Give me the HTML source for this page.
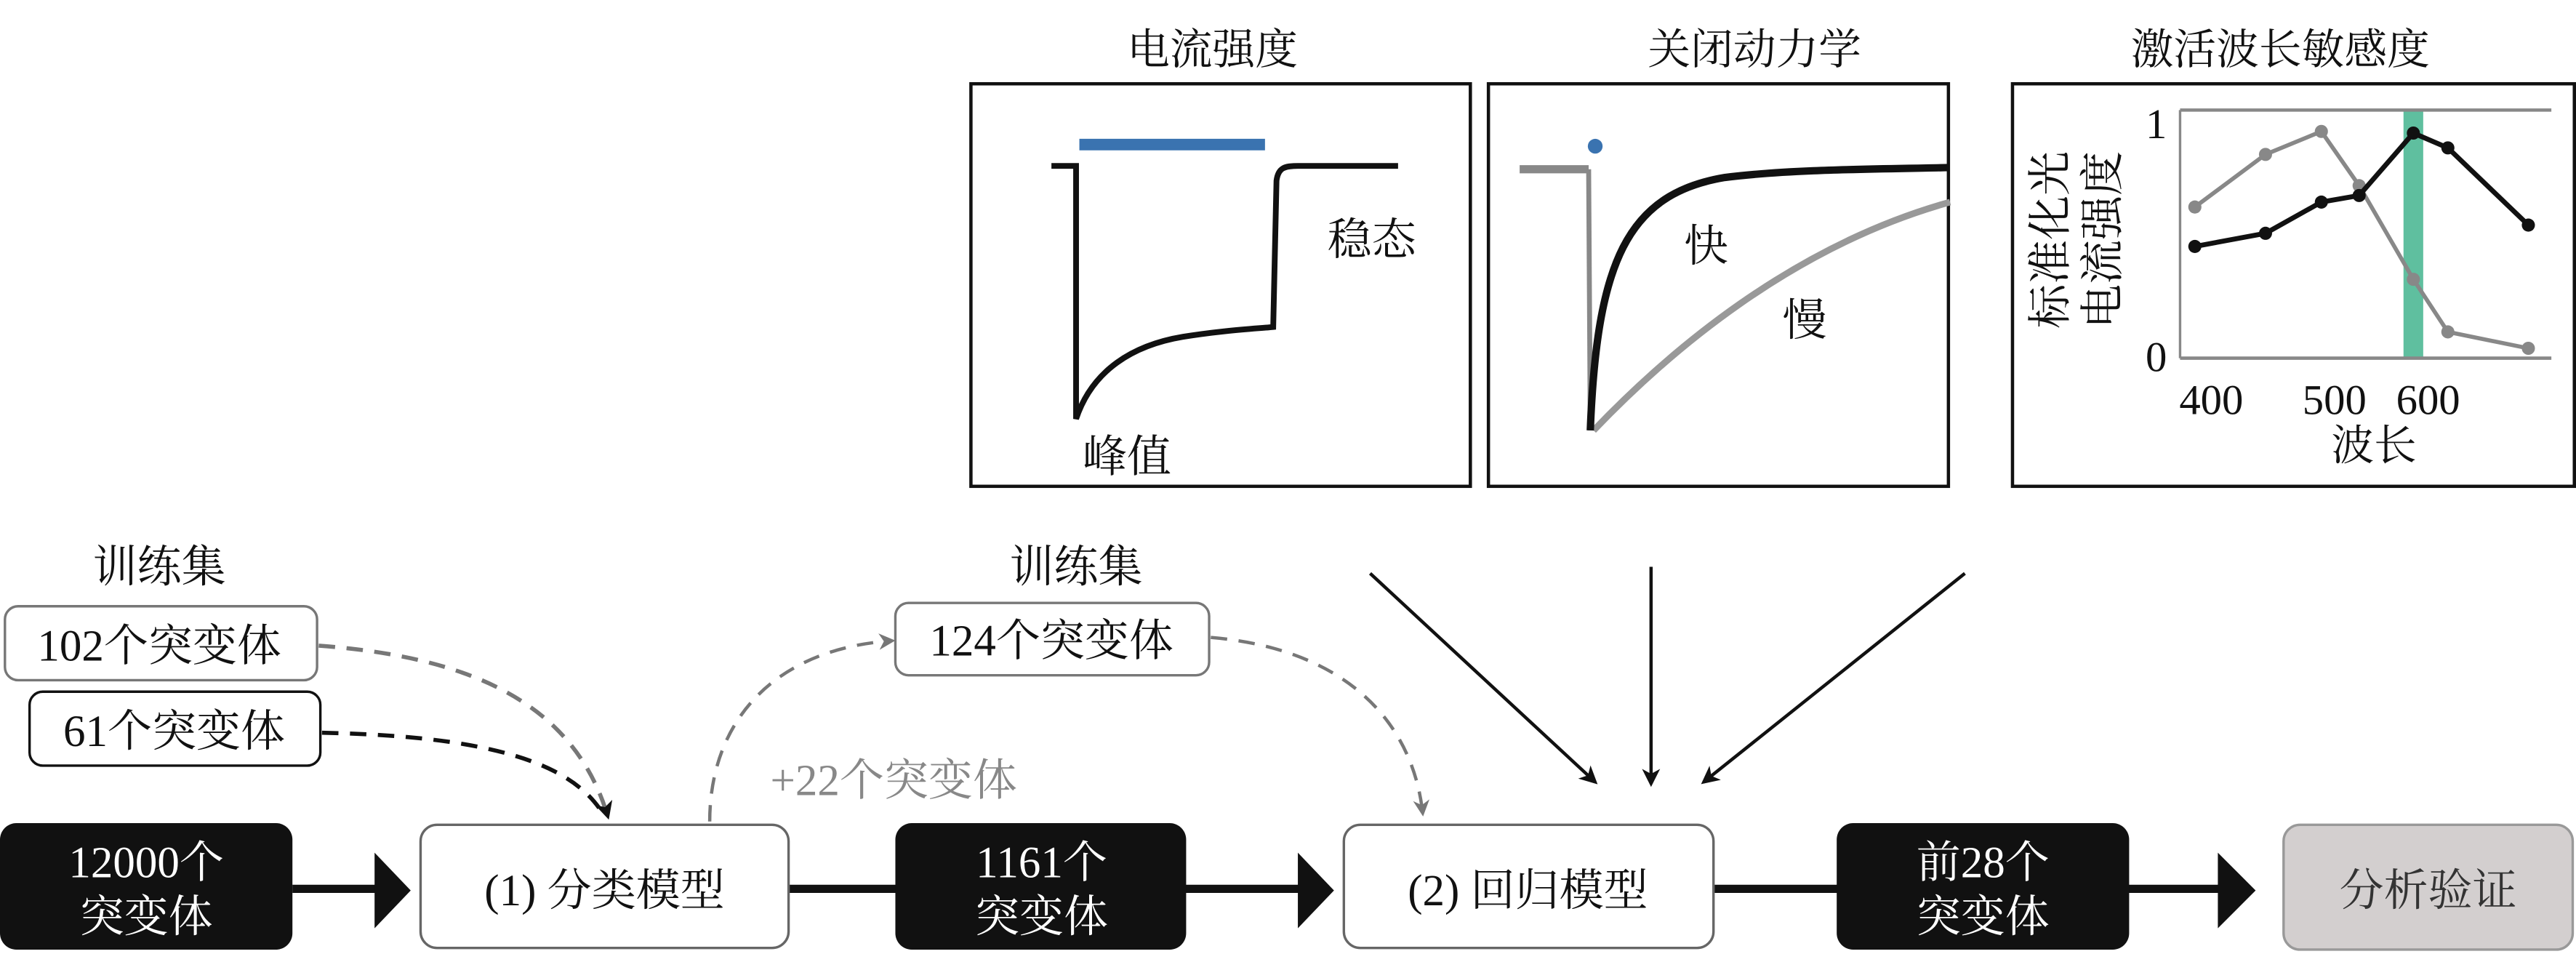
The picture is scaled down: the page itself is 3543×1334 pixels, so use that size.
<!DOCTYPE html>
<html><head><meta charset="utf-8"><style>
html,body{margin:0;padding:0;background:#fff;}
svg{display:block;}
text{font-family:"Liberation Serif","Noto Serif CJK SC",serif;}
</style></head><body>
<svg width="3543" height="1334" viewBox="0 0 1568 590.4" preserveAspectRatio="none" xmlns="http://www.w3.org/2000/svg">
<defs>
<marker id="ab" markerWidth="11" markerHeight="11" refX="9" refY="5.5" orient="auto" markerUnits="userSpaceOnUse"><path d="M0,0 L11,5.5 L0,11 L3,5.5 Z" fill="#111"/></marker>
<marker id="ag" markerWidth="10" markerHeight="10" refX="8" refY="5" orient="auto" markerUnits="userSpaceOnUse"><path d="M0,0 L10,5 L0,10 L3,5 Z" fill="#777"/></marker>
</defs>
<g font-size="26" text-anchor="middle" fill="#111">
<text x="738" y="39">电流强度</text>
<text x="1068" y="39">关闭动力学</text>
<text x="1388" y="39">激活波长敏感度</text>
</g>
<rect x="591" y="51" width="304" height="245" fill="#fff" stroke="#111" stroke-width="2"/>
<rect x="906" y="51" width="280" height="245" fill="#fff" stroke="#111" stroke-width="2"/>
<rect x="1225" y="51" width="342" height="245" fill="#fff" stroke="#111" stroke-width="2"/>
<line x1="657" y1="88" x2="770" y2="88" stroke="#3a73b0" stroke-width="7"/>
<path d="M640,101 L655,101 L655,255 C665,225 690,210 720,205 C745,201 765,200 775,199 L777,110 C778,102 782,101 790,101 L851,101" fill="none" stroke="#111" stroke-width="3.5"/>
<g font-size="27" fill="#111"><text x="808" y="155">稳态</text><text x="659" y="287">峰值</text></g>
<circle cx="971" cy="89" r="4.5" fill="#3a73b0"/>
<line x1="925" y1="103" x2="967" y2="103" stroke="#888" stroke-width="5"/>
<line x1="967" y1="103" x2="968" y2="262" stroke="#888" stroke-width="3"/>
<path d="M970,262 C1015,215 1090,150 1187,123" fill="none" stroke="#999" stroke-width="4"/>
<path d="M968,262 C972,160 990,118 1050,108 C1090,103 1140,103 1186,102" fill="none" stroke="#111" stroke-width="4.5"/>
<g font-size="27" fill="#111"><text x="1025" y="159">快</text><text x="1085" y="204">慢</text></g>
<rect x="1463" y="67" width="12" height="151" fill="#5fbf9f"/>
<line x1="1327" y1="67" x2="1553" y2="67" stroke="#888" stroke-width="2"/>
<line x1="1327" y1="218" x2="1553" y2="218" stroke="#888" stroke-width="2"/>
<line x1="1327" y1="67" x2="1327" y2="218" stroke="#888" stroke-width="1.5"/>
<polyline points="1336,126 1379,94 1413,80 1436,113 1469,170 1490,202 1539,212" fill="none" stroke="#888" stroke-width="2.5"/>
<g fill="#888"><circle cx="1336" cy="126" r="4"/><circle cx="1379" cy="94" r="4"/><circle cx="1413" cy="80" r="4"/><circle cx="1436" cy="113" r="4"/><circle cx="1469" cy="170" r="4"/><circle cx="1490" cy="202" r="4"/><circle cx="1539" cy="212" r="4"/></g>
<polyline points="1336,150 1379,142 1413,123 1436,119 1469,81 1490,90 1539,137" fill="none" stroke="#111" stroke-width="3"/>
<g fill="#111"><circle cx="1336" cy="150" r="4"/><circle cx="1379" cy="142" r="4"/><circle cx="1413" cy="123" r="4"/><circle cx="1436" cy="119" r="4"/><circle cx="1469" cy="81" r="4"/><circle cx="1490" cy="90" r="4"/><circle cx="1539" cy="137" r="4"/></g>
<g font-size="26" fill="#111">
<text x="1306" y="84">1</text><text x="1306" y="226">0</text>
<text x="1346" y="252" text-anchor="middle">400</text>
<text x="1421" y="252" text-anchor="middle">500</text>
<text x="1478" y="252" text-anchor="middle">600</text>
<text x="1445" y="280" text-anchor="middle">波长</text>
</g>
<g font-size="27" fill="#111">
<text transform="translate(1257,146) rotate(-90)" text-anchor="middle">标准化光</text>
<text transform="translate(1289,146) rotate(-90)" text-anchor="middle">电流强度</text>
</g>
<g font-size="27" fill="#111" text-anchor="middle">
<text x="97" y="354">训练集</text>
<text x="655" y="354">训练集</text>
</g>
<rect x="3" y="369" width="190" height="45" rx="8" fill="#fff" stroke="#777" stroke-width="1.5"/>
<rect x="18" y="421" width="177" height="45" rx="8" fill="#fff" stroke="#111" stroke-width="1.5"/>
<rect x="545" y="367" width="191" height="44" rx="8" fill="#fff" stroke="#777" stroke-width="1.5"/>
<g font-size="27" fill="#111" text-anchor="middle">
<text x="97" y="402">102个突变体</text>
<text x="106" y="454">61个突变体</text>
<text x="640" y="399">124个突变体</text>
</g>
<text x="544" y="484" font-size="27" fill="#888" text-anchor="middle">+22个突变体</text>
<path d="M194,393 C290,400 350,430 370,497" fill="none" stroke="#777" stroke-width="2.5" stroke-dasharray="10,7" marker-end="url(#ab)"/>
<path d="M196,446 C300,448 350,465 368,497" fill="none" stroke="#111" stroke-width="2.5" stroke-dasharray="10,7"/>
<path d="M432,500 C432,440 470,395 543,390" fill="none" stroke="#777" stroke-width="2" stroke-dasharray="10,7" marker-end="url(#ag)"/>
<path d="M737,388 C820,395 860,440 866,495" fill="none" stroke="#777" stroke-width="2" stroke-dasharray="10,7" marker-end="url(#ag)"/>
<line x1="834" y1="349" x2="971" y2="476" stroke="#111" stroke-width="2" marker-end="url(#ab)"/>
<line x1="1005" y1="345" x2="1005" y2="477" stroke="#111" stroke-width="2" marker-end="url(#ab)"/>
<line x1="1196" y1="349" x2="1037" y2="476" stroke="#111" stroke-width="2" marker-end="url(#ab)"/>
<line x1="178" y1="541" x2="232" y2="541" stroke="#111" stroke-width="5"/>
<polygon points="228,519 250,542 228,565" fill="#111"/>
<line x1="480" y1="541" x2="548" y2="541" stroke="#111" stroke-width="5"/>
<line x1="720" y1="541" x2="792" y2="541" stroke="#111" stroke-width="5"/>
<polygon points="790,519 812,542 790,565" fill="#111"/>
<line x1="1043" y1="541" x2="1120" y2="541" stroke="#111" stroke-width="5"/>
<line x1="1294" y1="541" x2="1352" y2="541" stroke="#111" stroke-width="5"/>
<polygon points="1350,519 1373,542 1350,565" fill="#111"/>
<rect x="0" y="501" width="178" height="77" rx="10" fill="#111"/>
<rect x="256" y="502" width="224" height="75" rx="10" fill="#fff" stroke="#666" stroke-width="1.5"/>
<rect x="545" y="501" width="177" height="77" rx="10" fill="#111"/>
<rect x="818" y="502" width="225" height="75" rx="10" fill="#fff" stroke="#666" stroke-width="1.5"/>
<rect x="1118" y="501" width="178" height="77" rx="10" fill="#111"/>
<rect x="1390" y="502" width="176" height="76" rx="10" fill="#d3cfcf" stroke="#999" stroke-width="1.5"/>
<g font-size="27" text-anchor="middle">
<text x="89" y="534" fill="#fff">12000个</text>
<text x="89" y="567" fill="#fff">突变体</text>
<text x="368" y="551" fill="#111">(1) 分类模型</text>
<text x="634" y="534" fill="#fff">1161个</text>
<text x="634" y="567" fill="#fff">突变体</text>
<text x="930" y="551" fill="#111">(2) 回归模型</text>
<text x="1207" y="534" fill="#fff">前28个</text>
<text x="1207" y="567" fill="#fff">突变体</text>
<text x="1478" y="551" fill="#333">分析验证</text>
</g>
</svg>
</body></html>
